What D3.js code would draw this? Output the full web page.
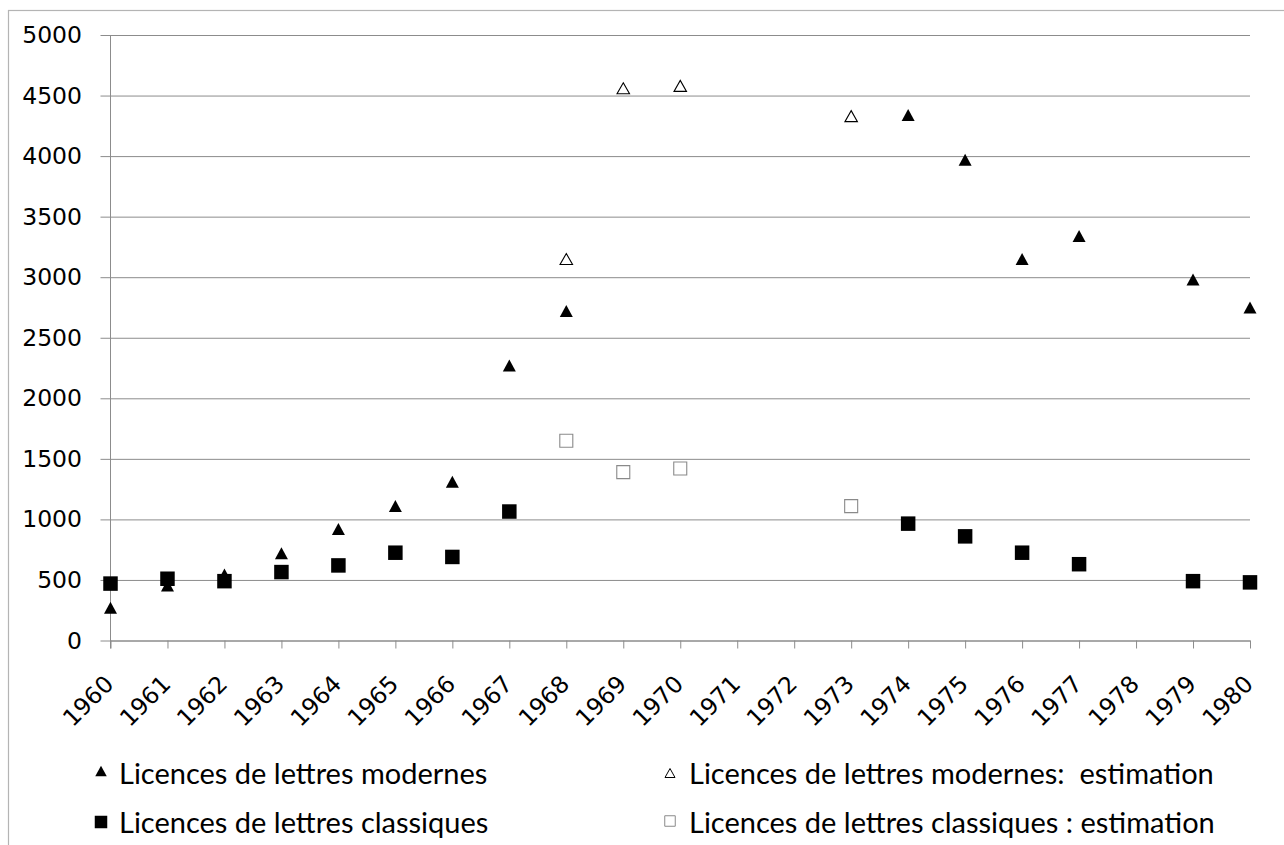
<!DOCTYPE html>
<html lang="fr">
	<head>
		<meta charset="utf-8">
		<title>Licences de lettres 1960-1980</title>
		<script type="text/javascript" src="https://cdn.jsdelivr.net/npm/d3@7/dist/d3.min.js"></script>
		<style>
			body { margin: 0; background: #fff; }
			svg { display: block; }
			.axis text { font-family: "DejaVu Sans", sans-serif; font-size: 23.5px; fill: #000; }
			.legend text { font-family: Lato, sans-serif; font-size: 29px; fill: #000; white-space: pre; }
		</style>
	</head>
	<body>
		<svg></svg>
		<script type="text/javascript">
			var width = 1284;
			var height = 845;

			// tick labels
			var years = [1960, 1961, 1962, 1963, 1964, 1965, 1966, 1967, 1968, 1969, 1970,
				1971, 1972, 1973, 1974, 1975, 1976, 1977, 1978, 1979, 1980];
			var yTicks = [0, 500, 1000, 1500, 2000, 2500, 3000, 3500, 4000, 4500, 5000];

			// Licences de lettres modernes
			var modernYears = [1960, 1961, 1962, 1963, 1964, 1965, 1966, 1967, 1968, 1974, 1975, 1976, 1977, 1979, 1980];
			var modernValues = [270, 455, 545, 720, 920, 1110, 1310, 2270, 2720, 4340, 3970, 3150, 3340, 2980, 2750];
			// estimation
			var modernEstYears = [1968, 1969, 1970, 1973];
			var modernEstValues = [3150, 4560, 4580, 4330];

			// Licences de lettres classiques
			var classicYears = [1960, 1961, 1962, 1963, 1964, 1965, 1966, 1967, 1974, 1975, 1976, 1977, 1979, 1980];
			var classicValues = [470, 510, 490, 565, 620, 725, 690, 1065, 965, 860, 725, 630, 490, 480];
			// estimation
			var classicEstYears = [1968, 1969, 1970, 1973];
			var classicEstValues = [1650, 1390, 1420, 1110];

			var legendLabels = [
				"Licences de lettres modernes",
				"Licences de lettres modernes:  estimation",
				"Licences de lettres classiques",
				"Licences de lettres classiques : estimation"
			];

			var svg = d3.select("svg")
				.attr("width", width)
				.attr("height", height);

			// chart area border (only top and left visible)
			svg.append("rect")
				.attr("x", 8.5).attr("y", 10.5)
				.attr("width", 1300).attr("height", 900)
				.attr("fill", "none")
				.attr("stroke", "#b4b4b4")
				.attr("stroke-width", 1.2);

			var x = d3.scaleLinear().domain([1960, 1980]).range([110.5, 1250]);
			var y = d3.scaleLinear().domain([0, 5000]).range([640.5, 35]);

			// gridlines + y labels
			var yAxis = svg.append("g")
				.attr("class", "axis")
				.attr("transform", "translate(100.5,0)")
				.call(d3.axisLeft(y)
					.tickValues(yTicks)
					.tickFormat(d3.format("d"))
					.tickSize(-(1250 - 100.5))
					.tickPadding(18.5));
			yAxis.select(".domain").remove();
			yAxis.selectAll(".tick line").attr("stroke", "#8c8c8c");

			// vertical axis line
			svg.append("line")
				.attr("x1", x(1960)).attr("x2", x(1960))
				.attr("y1", y(5000)).attr("y2", y(0) + 8)
				.attr("stroke", "#8c8c8c");

			// x axis
			var xAxis = svg.append("g")
				.attr("class", "axis")
				.attr("transform", "translate(0," + y(0) + ")")
				.call(d3.axisBottom(x)
					.tickValues(years)
					.tickFormat(d3.format("d"))
					.tickSizeInner(8)
					.tickSizeOuter(0));
			xAxis.select(".domain").attr("stroke", "#8c8c8c");
			xAxis.selectAll(".tick line").attr("stroke", "#8c8c8c");
			xAxis.selectAll(".tick text")
				.attr("text-anchor", "end")
				.attr("x", 4)
				.attr("y", 45)
				.attr("dy", 0)
				.attr("transform", "rotate(-45 4 45)");

			// marker paths
			function triangle(w, h) {
				return "M0," + (-h / 2) + "L" + (w / 2) + "," + (h / 2) + "L" + (-w / 2) + "," + (h / 2) + "Z";
			}
			function square(s) {
				return "M" + (-s / 2) + "," + (-s / 2) + "h" + s + "v" + s + "h" + (-s) + "Z";
			}

			function drawSeries(xs, vs, path, fill, stroke) {
				svg.append("g").selectAll("path")
					.data(xs.map(function(d, i) { return [d, vs[i]]; }))
					.enter()
					.append("path")
					.attr("d", path)
					.attr("transform", function(d) { return "translate(" + x(d[0]) + "," + y(d[1]) + ")"; })
					.attr("fill", fill)
					.attr("stroke", stroke)
					.attr("stroke-width", 1.1);
			}

			drawSeries(modernYears, modernValues, triangle(13, 12), "#000", "none");
			drawSeries(classicYears, classicValues, square(14.5), "#000", "none");
			drawSeries(modernEstYears, modernEstValues, triangle(12.5, 11), "#fff", "#000");
			drawSeries(classicEstYears, classicEstValues, square(13), "#fff", "#8a8a8a");

			// legend
			var legendItems = [
				{ label: legendLabels[0], mx: 101, my: 771, tx: 119, ty: 784, path: triangle(11.5, 10.5), fill: "#000", stroke: "none" },
				{ label: legendLabels[1], mx: 670, my: 773, tx: 689, ty: 784, path: triangle(10, 9), fill: "#fff", stroke: "#000" },
				{ label: legendLabels[2], mx: 101, my: 822, tx: 119, ty: 833, path: square(12.5), fill: "#000", stroke: "none" },
				{ label: legendLabels[3], mx: 670, my: 821, tx: 689, ty: 833, path: square(10.5), fill: "#fff", stroke: "#8a8a8a" }
			];

			var legend = svg.append("g").attr("class", "legend");
			legend.selectAll("path")
				.data(legendItems)
				.enter()
				.append("path")
				.attr("d", function(d) { return d.path; })
				.attr("transform", function(d) { return "translate(" + d.mx + "," + d.my + ")"; })
				.attr("fill", function(d) { return d.fill; })
				.attr("stroke", function(d) { return d.stroke; });
			legend.selectAll("text")
				.data(legendItems)
				.enter()
				.append("text")
				.attr("x", function(d) { return d.tx; })
				.attr("y", function(d) { return d.ty; })
				.text(function(d) { return d.label; });
		</script>
	</body>
</html>
